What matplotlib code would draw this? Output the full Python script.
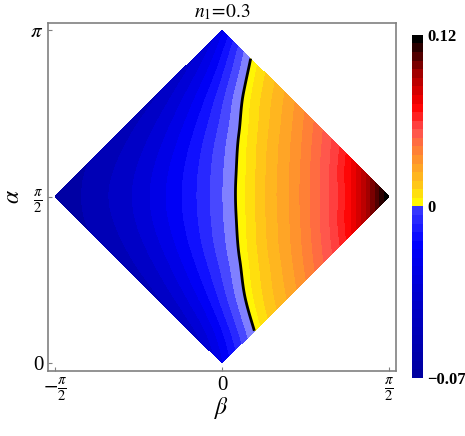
import numpy as np
import matplotlib
matplotlib.use('Agg')
import matplotlib.pyplot as plt
import matplotlib.tri as mtri
from matplotlib.colors import ListedColormap, BoundaryNorm, LinearSegmentedColormap
from matplotlib.cm import ScalarMappable

plt.rcParams['font.family'] = 'Liberation Serif'
plt.rcParams['mathtext.fontset'] = 'stix'

# sample grid along the diamond's two diagonals:
# u = beta + (alpha - pi/2), v = beta - (alpha - pi/2)
diag_steps = np.linspace(-np.pi / 2, np.pi / 2, 9)

# values, rows = u index, cols = v index
n_vals = [
    [-0.0700, -0.0651, -0.0621, -0.0602, -0.0586, -0.0569, -0.0543, -0.0490, -0.0360],
    [-0.0651, -0.0591, -0.0546, -0.0502, -0.0456, -0.0404, -0.0341, -0.0253, -0.0128],
    [-0.0620, -0.0545, -0.0467, -0.0389, -0.0317, -0.0239, -0.0144, -0.0022, 0.0088],
    [-0.0600, -0.0501, -0.0389, -0.0288, -0.0194, -0.0090, 0.0021, 0.0136, 0.0227],
    [-0.0582, -0.0452, -0.0316, -0.0193, -0.0075, 0.0040, 0.0162, 0.0259, 0.0356],
    [-0.0562, -0.0396, -0.0235, -0.0088, 0.0041, 0.0170, 0.0274, 0.0383, 0.0498],
    [-0.0527, -0.0326, -0.0134, 0.0026, 0.0163, 0.0275, 0.0393, 0.0518, 0.0667],
    [-0.0473, -0.0228, -0.0005, 0.0144, 0.0263, 0.0385, 0.0518, 0.0679, 0.0923],
    [-0.0380, -0.0084, 0.0107, 0.0238, 0.0364, 0.0502, 0.0670, 0.0924, 0.1200],
]

neg_levels = np.linspace(-0.07, 0, 11)
pos_levels = np.linspace(0, 0.12, 21)
cb_ticks = [-0.07, 0, 0.12]
cb_ticklabels = ['\u22120.07', '0', '0.12']

neg_colors = ['#0000a4', '#0000b6', '#0000c6', '#0000d6', '#0000e6', '#0000f6',
              '#1010ff', '#2828ff', '#4848ff', '#8080ff']
pos_cmap = LinearSegmentedColormap.from_list(
    'pos', [(0, '#ffff00'), (0.12, '#ffc818'), (0.3, '#ff8c30'),
            (0.45, '#ff5050'), (0.6, '#ff0000'), (0.8, '#a00000'), (1, '#000000')])
pos_colors = [pos_cmap(x) for x in np.linspace(0.02, 1, 20)]

# colorbar has its own (finer) blue scale
neg_cb_cmap = LinearSegmentedColormap.from_list(
    'negcb', [(0, '#0000a0'), (0.5, '#0000d0'), (0.8, '#0000ff'), (1, '#3535ff')])
neg_cb_colors = [neg_cb_cmap(x) for x in np.linspace(0, 1, 20)]

# build the mesh
U, V = np.meshgrid(diag_steps, diag_steps, indexing='ij')
Z = np.array(n_vals)
X = (U + V) / 2
Y = np.pi / 2 + (U - V) / 2

n = len(diag_steps)
triangles = []
for i in range(n - 1):
    for j in range(n - 1):
        p = i * n + j
        triangles.append([p, p + n, p + 1])
        triangles.append([p + 1, p + n, p + n + 1])
tri = mtri.Triangulation(X.ravel(), Y.ravel(), triangles)
refiner = mtri.UniformTriRefiner(tri)
tri_f, z_f = refiner.refine_field(Z.ravel(), subdiv=4)
z_f = np.clip(z_f, -0.07, 0.12)

fig = plt.figure(figsize=(4.65, 4.36), dpi=100)
ax = fig.add_axes([0.1032, 0.1491, 0.7484, 0.7982])

levels = np.concatenate([neg_levels, pos_levels[1:]])
ax.tricontourf(tri_f, z_f, levels=levels, colors=neg_colors + pos_colors,
               antialiased=False)
ax.tricontour(tri_f, z_f, levels=[0], colors='k', linewidths=2)

ax.set_xlim(-1.637, 1.637)
ax.set_ylim(-0.075, 3.208)
ax.set_xticks([-np.pi / 2, 0, np.pi / 2])
ax.set_xticklabels([r'$-\frac{\pi}{2}$', '0', r'$\frac{\pi}{2}$'])
ax.set_yticks([0, np.pi / 2, np.pi])
ax.set_yticklabels(['0', r'$\frac{\pi}{2}$', r'$\pi$'])
ax.tick_params(direction='in', length=3, color='#808080', labelsize=15)
for s in ax.spines.values():
    s.set_color('#808080')
    s.set_linewidth(1.2)
ax.set_xlabel(r'$\beta$', fontsize=17)
ax.xaxis.set_label_coords(0.5, -0.07)
ax.set_ylabel(r'$\alpha$', fontsize=17, labelpad=4)
ax.set_title(r'$n_1\!=\!0.3$', fontsize=14, pad=4)

# colorbar
cax = fig.add_axes([0.886, 0.133, 0.0237, 0.787])
cb_bounds = np.concatenate([np.linspace(-0.07, 0, 21), pos_levels[1:]])
cb_colors = neg_cb_colors + pos_colors
sm = ScalarMappable(norm=BoundaryNorm(cb_bounds, len(cb_colors)),
                    cmap=ListedColormap(cb_colors))
cb = fig.colorbar(sm, cax=cax, spacing='uniform', ticks=cb_ticks)
cb.minorticks_off()
cb.ax.set_yticklabels(cb_ticklabels, fontweight='bold')
cb.outline.set_visible(False)
cb.ax.tick_params(which='both', length=0, labelsize=12, pad=3)

fig.savefig('out.png', dpi=100)
